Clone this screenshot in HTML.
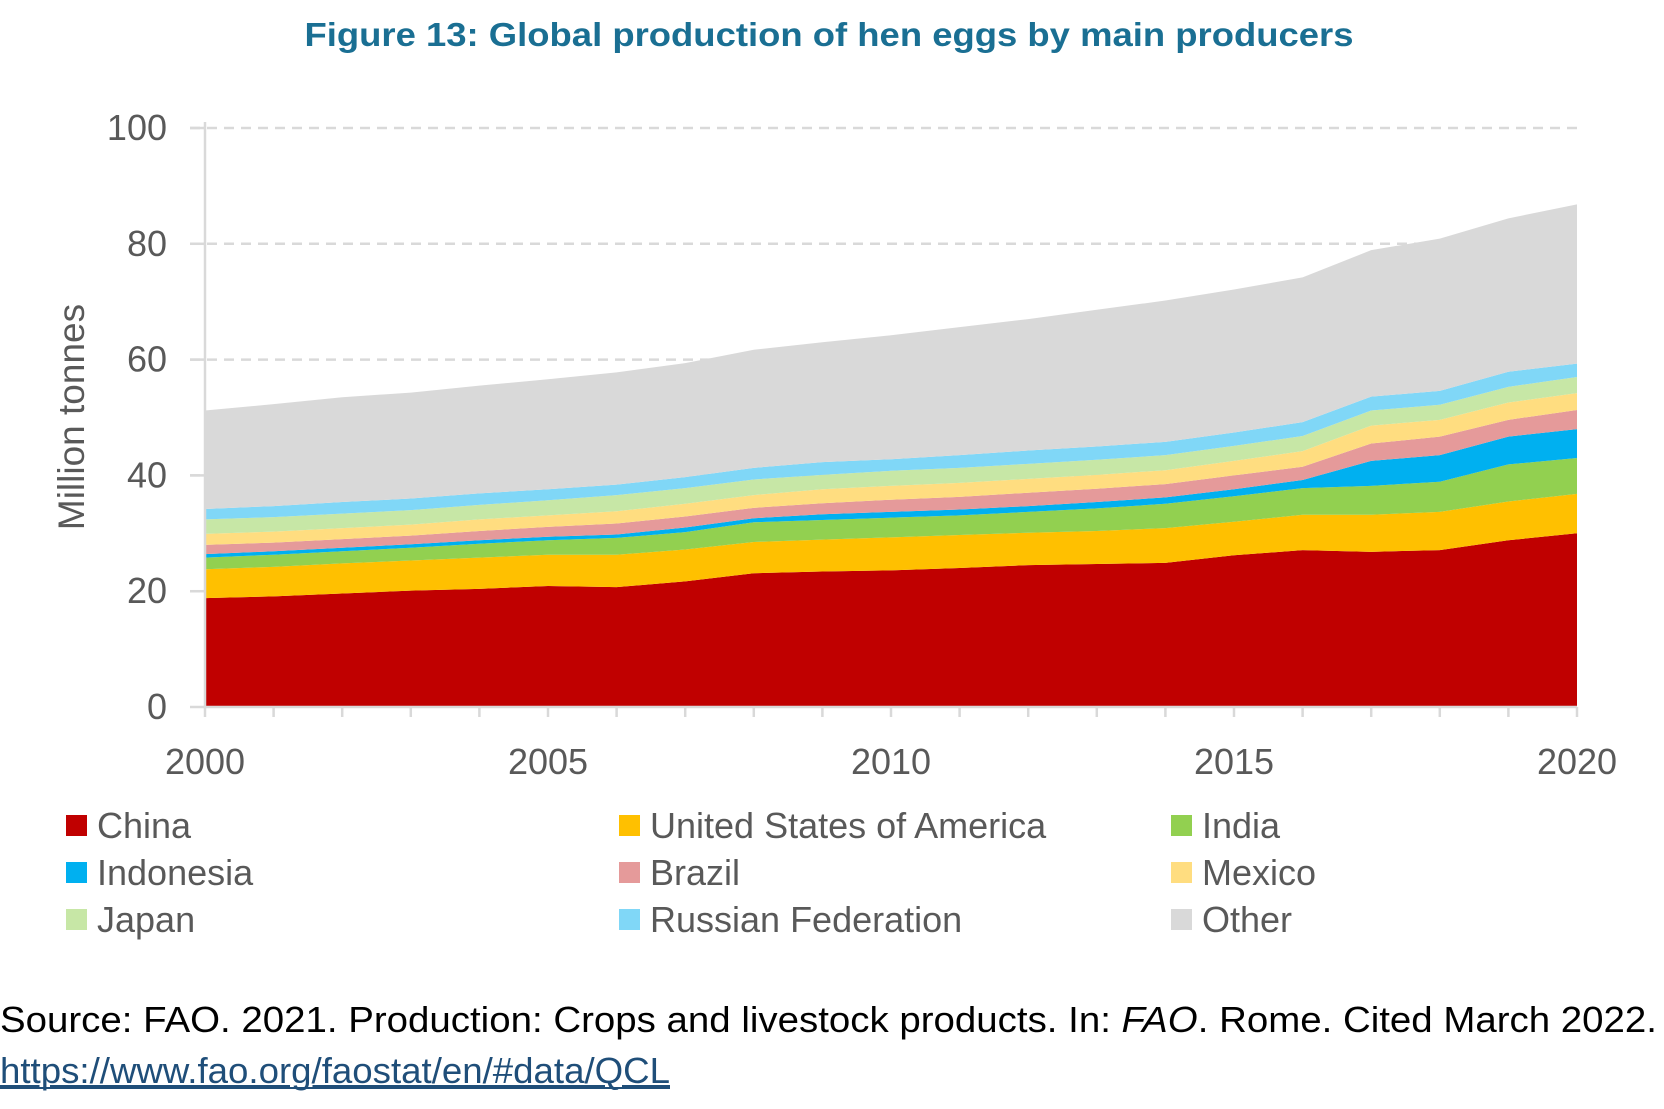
<!DOCTYPE html>
<html><head><meta charset="utf-8"><style>
html,body{margin:0;padding:0;background:#fff;}
svg{display:block;font-family:"Liberation Sans",Arial,sans-serif;}
</style></head><body>
<svg id="chart" width="1664" height="1109" viewBox="0 0 1664 1109" xmlns="http://www.w3.org/2000/svg">
<text x="829" y="46" text-anchor="middle" font-size="33" font-weight="bold" fill="#1a6f93" textLength="1049" lengthAdjust="spacingAndGlyphs">Figure 13: Global production of hen eggs by main producers</text>
<g id="grid"></g>
<g id="areas"></g>
<g id="axes"></g>
<text transform="translate(84,417) rotate(-90)" text-anchor="middle" font-size="37" fill="#595959">Million tonnes</text>
<g id="legend"></g>
<text x="0" y="1032" font-size="36" fill="#000" textLength="1657" lengthAdjust="spacingAndGlyphs">Source: FAO. 2021. Production: Crops and livestock products. In: <tspan font-style="italic">FAO</tspan>. Rome. Cited March 2022.</text>
<text x="0" y="1083" font-size="36" fill="#1f4e79" text-decoration="underline" textLength="670" lengthAdjust="spacingAndGlyphs">https://www.fao.org/faostat/en/#data/QCL</text>
<line x1="0" y1="1088" x2="670" y2="1088" stroke="#1f4e79" stroke-width="2"/>
</svg>
<script>
const years = [2000,2001,2002,2003,2004,2005,2006,2007,2008,2009,2010,2011,2012,2013,2014,2015,2016,2017,2018,2019,2020];
const seriesNames = ["China","United States of America","India","Indonesia","Brazil","Mexico","Japan","Russian Federation","Other"];
const china = [18.8,19.1,19.6,20.1,20.4,20.9,20.7,21.7,23.1,23.4,23.6,24.0,24.5,24.7,24.9,26.2,27.1,26.8,27.1,28.8,30.0];
const usa = [5.0,5.1,5.2,5.2,5.4,5.4,5.6,5.5,5.4,5.5,5.7,5.7,5.6,5.7,6.0,5.8,6.1,6.4,6.6,6.7,6.8];
const india = [2.0,2.1,2.1,2.2,2.4,2.5,2.9,3.0,3.4,3.4,3.4,3.4,3.6,3.9,4.2,4.4,4.6,5.0,5.2,6.4,6.2];
const indonesia = [0.6,0.6,0.6,0.6,0.6,0.6,0.6,0.8,0.7,1.0,1.0,1.0,1.0,1.1,1.1,1.2,1.4,4.3,4.6,4.8,5.0];
const brazil = [1.6,1.5,1.5,1.5,1.6,1.7,1.9,1.9,1.8,1.9,2.1,2.2,2.3,2.3,2.3,2.4,2.3,3.0,3.2,2.9,3.3];
const mexico = [1.9,1.9,1.9,1.9,2.0,2.0,2.1,2.2,2.2,2.4,2.4,2.4,2.4,2.4,2.4,2.5,2.7,3.1,2.9,3.0,2.9];
const japan = [2.5,2.5,2.5,2.5,2.5,2.6,2.8,2.7,2.7,2.5,2.6,2.6,2.6,2.6,2.6,2.6,2.6,2.6,2.6,2.7,2.8];
const russia = [1.8,1.9,2.0,2.0,2.0,1.9,1.8,1.9,2.0,2.2,2.0,2.2,2.3,2.3,2.3,2.3,2.4,2.4,2.4,2.6,2.3];
const other = [17.0,17.6,18.1,18.3,18.6,19.0,19.4,19.7,20.4,20.7,21.4,22.1,22.7,23.6,24.4,24.7,25.0,25.3,26.3,26.5,27.5];
const yTicks = [0,20,40,60,80,100];
const xTicks = [2000,2005,2010,2015,2020];

const allSeries = [china,usa,india,indonesia,brazil,mexico,japan,russia,other];
const colors = ["#c00000","#ffc000","#92d050","#00b0f0","#e59a9a","#ffdd80","#c7e7a6","#80d7f7","#d9d9d9"];
const NS = "http://www.w3.org/2000/svg";
const X0 = 205, X1 = 1577, Y0 = 707, Y1 = 128;
const x = yr => X0 + (yr - years[0]) / (years[years.length-1] - years[0]) * (X1 - X0);
const y = v => Y0 - v / 100 * (Y0 - Y1);
function mk(tag, attrs, parent){const e=document.createElementNS(NS,tag);for(const k in attrs)e.setAttribute(k,attrs[k]);parent.appendChild(e);return e;}

const grid = document.getElementById('grid');
yTicks.forEach(t=>{
  if(t>0){
    const l = mk('line',{x1:190,x2:X1,y1:y(t),y2:y(t),stroke:'#d9d9d9','stroke-width':2.5,'stroke-dasharray':'10 7'},grid);
    
    
  }
});

const areas = document.getElementById('areas');
let base = years.map(()=>0);
allSeries.forEach((s,i)=>{
  const top = base.map((b,j)=>b+s[j]);
  let d = 'M'+years.map((yr,j)=>x(yr)+','+y(top[j])).join(' L');
  for(let j=years.length-1;j>=0;j--) d += ' L'+x(years[j])+','+y(base[j]);
  d += ' Z';
  const p = mk('path',{d:d,fill:colors[i]},areas);
  
  
  base = top;
});

const axes = document.getElementById('axes');
const ya = mk('line',{x1:X0,x2:X0,y1:Y1-6,y2:Y0,stroke:'#d9d9d9','stroke-width':2.5},axes);


const xa = mk('line',{x1:X0,x2:X1,y1:Y0,y2:Y0,stroke:'#d9d9d9','stroke-width':2.5},axes);


yTicks.forEach(t=>{
  mk('line',{x1:190,x2:X0,y1:y(t),y2:y(t),stroke:'#d9d9d9','stroke-width':2.5},axes);
  const tx = mk('text',{x:167,y:y(t)+12,'text-anchor':'end','font-size':36,fill:'#595959'},axes);
  tx.textContent = t;
  
  
});
years.forEach(yr=>{
  mk('line',{x1:x(yr),x2:x(yr),y1:Y0,y2:Y0+10,stroke:'#d9d9d9','stroke-width':2.5},axes);
});
xTicks.forEach(yr=>{
  const tx = mk('text',{x:x(yr),y:774,'text-anchor':'middle','font-size':36,fill:'#595959'},axes);
  tx.textContent = yr;
  
  
});

const legend = document.getElementById('legend');
const colX = [66,619,1171], rowY = [826,873,920];
seriesNames.forEach((n,i)=>{
  const cx = colX[i%3], cy = rowY[Math.floor(i/3)];
  const g = mk('g',{},legend);
  
  
  mk('rect',{x:cx,y:cy-11,width:21,height:21,fill:colors[i]},g);
  const t = mk('text',{x:cx+31,y:cy+12,'font-size':36,fill:'#595959'},g);
  t.textContent = n;
});
</script>
</body></html>
